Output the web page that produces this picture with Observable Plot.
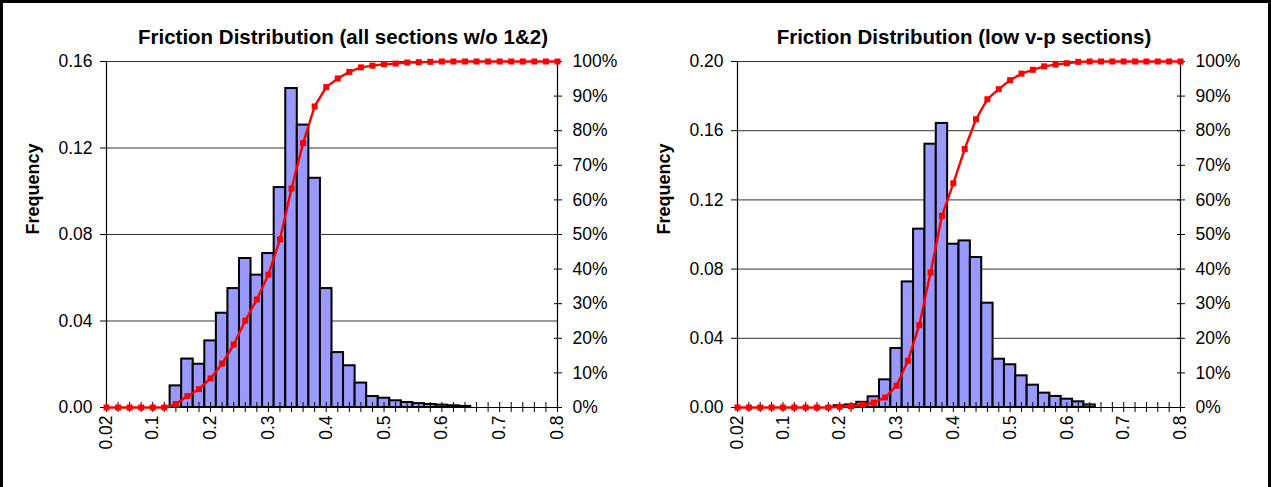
<!DOCTYPE html>
<html>
<head>
<meta charset="utf-8">
<script src="https://cdn.jsdelivr.net/npm/d3@7"></script>
<script src="https://cdn.jsdelivr.net/npm/@observablehq/plot@0.6"></script>
<style>
  html, body { margin: 0; padding: 0; background: #fff; }
  #root { position: relative; width: 1271px; height: 487px; overflow: hidden; font-family: "Liberation Sans", Arial, sans-serif; }
  .frame { position: absolute; left: 0; top: 0; width: 1271px; height: 487px; box-sizing: border-box; border-top: 3px solid #000; border-left: 3px solid #000; border-right: 3px solid #000; pointer-events: none; }
  .title { position: absolute; top: 25px; font-weight: bold; white-space: nowrap; transform: translateX(-50%); color: #000; line-height: 24px; font-size: 20.5px; }
  .panel { position: absolute; top: 0; }
</style>
</head>
<body>
<div id="root">
  <div class="panel" id="p1" style="left:0px;"></div>
  <div class="panel" id="p2" style="left:640px;"></div>
  <div class="title" id="t1" style="left:343px;"></div>
  <div class="title" id="t2" style="left:964px;"></div>
  <div class="frame"></div>
</div>
<script>
// ---------- data ----------
const titleLeft = "Friction Distribution (all sections w/o 1&2)";
const titleRight = "Friction Distribution (low v-p sections)";
const yLabel = "Frequency";

// bin centres (friction values)
const categories = [0.02, 0.04, 0.06, 0.08, 0.10, 0.12, 0.14, 0.16, 0.18, 0.20,
                    0.22, 0.24, 0.26, 0.28, 0.30, 0.32, 0.34, 0.36, 0.38, 0.40,
                    0.42, 0.44, 0.46, 0.48, 0.50, 0.52, 0.54, 0.56, 0.58, 0.60,
                    0.62, 0.64, 0.66, 0.68, 0.70, 0.72, 0.74, 0.76, 0.78, 0.80];

// left panel: frequency per bin
const freqAll = [0, 0, 0, 0, 0, 0, 0.0100, 0.0224, 0.0200, 0.0308,
                 0.0436, 0.0550, 0.0689, 0.0612, 0.0712, 0.1017, 0.1475, 0.1306, 0.1060, 0.0550,
                 0.0254, 0.0193, 0.0113, 0.0051, 0.0043, 0.0031, 0.0023, 0.0018, 0.0014, 0.0011,
                 0.0008, 0.0005, 0, 0, 0, 0, 0, 0, 0, 0];
// left panel: cumulative percent
const cumAll = [0, 0, 0, 0, 0, 0, 1.0, 3.3, 5.3, 8.4,
                12.7, 18.2, 25.1, 31.2, 38.4, 48.6, 63.3, 76.4, 87.0, 92.6,
                95.1, 97.0, 98.3, 98.8, 99.2, 99.4, 99.7, 99.8, 99.9, 100,
                100, 100, 100, 100, 100, 100, 100, 100, 100, 100];

// right panel: frequency per bin
const freqLow = [0, 0, 0, 0, 0, 0, 0, 0, 0, 0.0010,
                 0.0015, 0.0030, 0.0062, 0.0160, 0.0341, 0.0726, 0.1031, 0.1522, 0.1642, 0.0944,
                 0.0963, 0.0867, 0.0603, 0.0279, 0.0247, 0.0183, 0.0129, 0.0083, 0.0064, 0.0048,
                 0.0033, 0.0015, 0, 0, 0, 0, 0, 0, 0, 0];
// right panel: cumulative percent
const cumLow = [0, 0, 0, 0, 0, 0, 0, 0, 0, 0.2,
                0.4, 0.8, 1.4, 2.9, 6.3, 13.5, 23.8, 39.0, 55.4, 64.8,
                74.7, 83.3, 89.1, 92.0, 94.6, 96.5, 97.6, 98.6, 99.1, 99.5,
                99.9, 100, 100, 100, 100, 100, 100, 100, 100, 100];

// tick labels
const xTickValues = [0.02, 0.1, 0.2, 0.3, 0.4, 0.5, 0.6, 0.7, 0.8];
const xTickLabels = ["0.02", "0.1", "0.2", "0.3", "0.4", "0.5", "0.6", "0.7", "0.8"];
const yTicksLeft = [0, 0.04, 0.08, 0.12, 0.16];
const yTicksRight = [0, 0.04, 0.08, 0.12, 0.16, 0.20];
const pctTicks = [0, 10, 20, 30, 40, 50, 60, 70, 80, 90, 100];

// ---------- drawing ----------
function panel({freq, cum, ymax, yTicks, width, marginLeft, marginRight}) {
  const binHalf = (categories[1] - categories[0]) / 2;
  const bars = categories.map((x, i) => ({x, f: freq[i]})).filter(d => d.f > 0);
  const cumData = categories.map((x, i) => ({x, c: cum[i]}));
  const pctPos = pctTicks.map(p => p / 100 * ymax);
  const labelMap = new Map(xTickValues.map((v, i) => [v, xTickLabels[i]]));
  return Plot.plot({
    width, height: 487,
    marginLeft, marginRight, marginTop: 61, marginBottom: 80,
    x: {domain: [categories[0], categories[categories.length - 1]]},
    y: {domain: [0, ymax]},
    style: {fontFamily: "'Liberation Sans', Arial, sans-serif", fontSize: "17.5px", color: "#000", background: "transparent", overflow: "visible"},
    marks: [
      Plot.gridY(yTicks.filter(d => d > 0), {stroke: "#000", strokeOpacity: 0.8, strokeWidth: 1}),
      Plot.rectY(bars, {x1: d => d.x - binHalf, x2: d => d.x + binHalf, y: "f", fill: "#9999FF", stroke: "#000", strokeWidth: 2}),
      Plot.ruleY([0], {stroke: "#000", strokeWidth: 1.2}),
      Plot.ruleX([categories[0]], {stroke: "#000", strokeWidth: 1.2}),
      Plot.ruleX([categories[categories.length - 1]], {stroke: "#000", strokeWidth: 1.2}),
      Plot.axisY(yTicks, {anchor: "left", tickSize: 6, tickPadding: 8, tickFormat: d3.format(".2f"), label: null}),
      Plot.axisY(pctPos, {anchor: "right", tickSize: 8, dx: -4, tickFormat: () => "", label: null}),
      Plot.axisY(pctPos, {anchor: "right", tickSize: 0, tickPadding: 15, tickFormat: d => Math.round(d / ymax * 100) + "%", label: null}),
      Plot.axisX(categories, {anchor: "bottom", tickSize: 10, dy: -5, tickFormat: () => "", label: null}),
      Plot.axisX(xTickValues, {anchor: "bottom", tickSize: 0, tickPadding: 8, tickRotate: -90, tickFormat: d => labelMap.get(d), label: null}),
      Plot.line(cumData, {x: "x", y: d => d.c / 100 * ymax, stroke: "#FF0000", strokeWidth: 2.4}),
      Plot.dot(cumData, {x: "x", y: d => d.c / 100 * ymax, symbol: "square", r: 3.4, fill: "#FF0000", stroke: "none"}),
      Plot.text([yLabel], {frameAnchor: "left", dx: -73, rotate: -90, fontWeight: "bold", fontSize: 18})
    ]
  });
}

document.getElementById("t1").textContent = titleLeft;
document.getElementById("t2").textContent = titleRight;
document.getElementById("p1").appendChild(panel({freq: freqAll, cum: cumAll, ymax: 0.16, yTicks: yTicksLeft, width: 640, marginLeft: 106, marginRight: 83}));
document.getElementById("p2").appendChild(panel({freq: freqLow, cum: cumLow, ymax: 0.20, yTicks: yTicksRight, width: 631, marginLeft: 97, marginRight: 91}));
</script>
</body>
</html>
